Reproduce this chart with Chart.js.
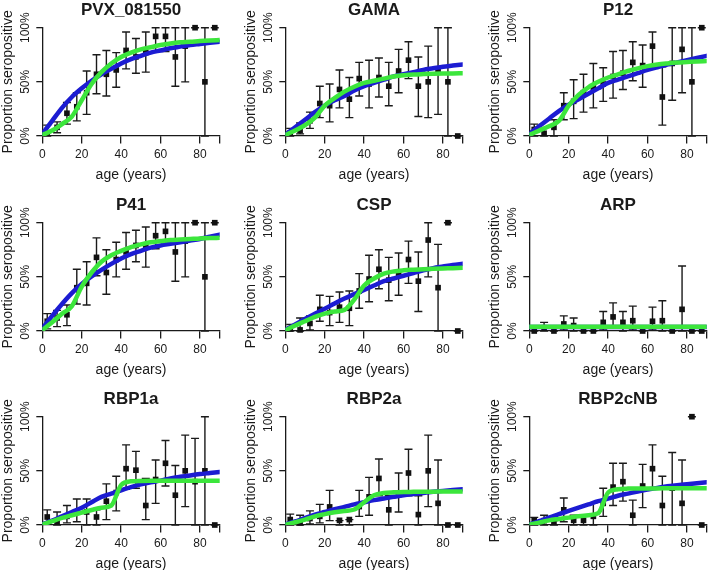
<!DOCTYPE html>
<html>
<head>
<meta charset="utf-8">
<title>Proportion seropositive by age</title>
<script src="https://cdn.jsdelivr.net/npm/chart.js@4"></script>
<style>
  body { margin: 0; background: #fff; overflow: hidden; }
  #wrap { position: relative; width: 709px; height: 570px; overflow: hidden; }
  #wrap canvas { position: absolute; }
</style>
</head>
<body>
<div id="wrap"></div>
<script>
var ageMids = [2.5, 7.5, 12.5, 17.5, 22.5, 27.5, 32.5, 37.5, 42.5, 47.5, 52.5, 57.5, 62.5, 67.5, 72.5, 77.5, 82.5, 87.5];
var curveAges = [0, 5, 10, 15, 20, 25, 30, 35, 40, 45, 50, 55, 60, 65, 70, 75, 80, 85, 90];
var xTickValues = [0, 20, 40, 60, 80, 90];
var xTickLabels = ['0', '20', '40', '60', '80', ''];
var yTickValues = [0, 50, 100];
var yTickLabels = ['0%', '50%', '100%'];

// PVX_081550
var pvx_pts   = [3, 8, 21, 27, 40, 57, 57, 61, 79, 73, 77, 92, 92, 73, 83, 100, 50, 100];
var pvx_lo    = [0, 3, 11, 14, 20, 39, 37, 45, 62, 58, 59, 78, 78, 46, 50, 100, 0, 100];
var pvx_hi    = [10, 13, 31, 40, 60, 75, 79, 77, 96, 90, 96, 100, 100, 100, 100, 100, 100, 100];
var pvx_blue  = [2, 14, 26, 36, 44, 51, 57, 62, 67, 71, 74, 77, 79, 81, 82.5, 84, 85, 86, 87];
var pvx_green = [1, 5, 11, 18, 33, 48, 59, 67, 73, 77, 80, 82, 84, 85.5, 86.5, 87, 87.7, 88.2, 88.6];

// GAMA
var gama_pts   = [3, 5, 14, 30, 28, 43, 34, 53, 48, 54, 46, 60, 70, 46, 50, 60, 50, 0];
var gama_lo    = [0, 2, 7, 17, 13, 26, 17, 37, 26, 36, 28, 40, 53, 18, 17, 20, 0, 0];
var gama_hi    = [7, 12, 22, 46, 48, 61, 54, 68, 70, 72, 68, 80, 87, 73, 83, 100, 100, 0];
var gama_blue  = [1, 8, 15, 22, 28, 33, 37, 42, 46, 49, 52, 55, 57, 59, 61, 62.5, 64, 65, 66];
var gama_green = [1, 5, 10, 17, 28, 35, 41, 45.5, 49, 51, 53, 55, 56, 56.8, 57.2, 57.5, 57.7, 57.8, 58];

// P12
var p12_pts   = [6, 2.5, 8, 28, 32, 40, 45, 48, 55, 58, 68, 65, 83, 36, 67, 80, 50, 100];
var p12_lo    = [0, 0, 0, 15, 16, 22, 26, 32, 35, 43, 51, 45, 63, 10, 33, 40, 0, 100];
var p12_hi    = [11, 7, 15, 40, 52, 57, 67, 63, 78, 79, 87, 84, 96, 64, 100, 100, 100, 100];
var p12_blue  = [2, 9, 16, 23, 29, 34, 39, 44, 49, 52, 55, 58, 61, 63.5, 66, 68, 70, 72, 74];
var p12_green = [1, 5, 9, 14, 28, 38, 45, 50, 54, 57, 60, 62.5, 64.5, 66, 67, 67.8, 68.3, 68.8, 69.2];

// P41
var p41_pts   = [9, 12, 15, 40, 44, 68, 54, 66, 73, 79, 78, 88, 92, 73, 83, 100, 50, 100];
var p41_lo    = [2, 4, 5, 25, 24, 51, 34, 50, 57, 64, 59, 76, 80, 46, 50, 100, 0, 100];
var p41_hi    = [16, 19, 24, 57, 64, 86, 75, 82, 91, 93, 96, 100, 100, 100, 100, 100, 100, 100];
var p41_blue  = [2, 14, 25, 35, 43.5, 50.5, 56.5, 62, 67, 71, 74, 77, 79, 80.5, 82, 83.5, 85, 87, 89];
var p41_green = [1, 8, 16, 23, 41, 54, 64, 70, 74, 77.5, 80, 82, 83, 84, 84.5, 85, 85.5, 85.8, 86];

// CSP
var csp_pts   = [2, 1, 7, 20, 17, 22, 21, 37, 48, 57, 47, 52, 66, 46, 84, 40, 100, 0];
var csp_lo    = [0, 0, 1, 9, 5, 8, 5, 21, 27, 39, 28, 33, 44, 18, 50, 0, 100, 0];
var csp_hi    = [6, 12, 14, 33, 32, 36, 37, 53, 70, 75, 68, 72, 83, 73, 100, 80, 100, 0];
var csp_blue  = [1, 6, 11, 16, 20.5, 25.5, 30, 34, 38, 42, 46, 48.5, 51, 53.5, 56, 58, 59.5, 61, 62];
var csp_green = [0.5, 5, 9, 13, 16, 18, 19.5, 29, 42, 48.5, 53, 55, 56, 56.6, 57.1, 57.4, 57.7, 58, 58.3];

// ARP
var arp_pts   = [0, 3, 0, 6.5, 5, 0, 0, 8, 13, 8, 9.5, 0, 9, 9.5, 0, 20, 0, 0];
var arp_lo    = [0, 0, 0, 1, 0, 0, 0, 1, 3, 0, 1, 0, 1, 0, 0, 0, 0, 0];
var arp_hi    = [3, 8, 0, 14, 12, 0, 0, 18, 26, 18, 23, 0, 22, 28, 0, 60, 0, 0];
var arp_blue  = [3.7, 3.7, 3.7, 3.7, 3.7, 3.7, 3.7, 3.7, 3.7, 3.7, 3.7, 3.7, 3.7, 3.7, 3.7, 3.7, 3.7, 3.7, 3.7];
var arp_green = [3.9, 3.9, 3.9, 3.9, 3.9, 3.9, 3.9, 3.9, 3.9, 3.9, 3.9, 3.9, 3.9, 3.9, 3.9, 3.9, 3.9, 3.9, 3.9];

// RBP1a
var rbp1a_pts   = [7.4, 3, 8, 12, 12, 7.4, 22, 30, 52, 50.6, 18, 42, 57, 27.5, 50, 40, 50, 0];
var rbp1a_lo    = [2, 0, 2, 3, 0, 0, 5, 13, 33, 34, 5, 20, 36, 0, 17, 0, 0, 0];
var rbp1a_hi    = [14, 12, 18, 24, 24, 14, 38, 45, 74, 68, 43, 60, 78, 55, 83, 80, 100, 0];
var rbp1a_blue  = [0.5, 4, 8, 12, 16, 21, 26, 29, 32, 35, 37.5, 39.5, 41, 43, 44.5, 45.8, 47, 48, 49];
var rbp1a_green = [0.5, 3.5, 6.5, 9, 11.4, 13.8, 16, 18, 37, 40.3, 40.7, 40.8, 40.8, 40.8, 40.8, 40.8, 40.8, 40.8, 40.8];

// RBP2a
var rbp2a_pts   = [5, 2, 6, 8, 16.7, 4.3, 5, 17, 26, 43, 14, 28, 48, 9.6, 50, 20, 0, 0];
var rbp2a_lo    = [0, 0, 1, 2, 4, 0, 0, 8, 9, 27, 0, 12, 27, 0, 17, 0, 0, 0];
var rbp2a_hi    = [10, 9, 13, 19, 32, 4, 5, 32, 44, 61, 27, 48, 70, 27, 83, 60, 0, 0];
var rbp2a_blue  = [0.5, 3.3, 6.5, 9.5, 12, 14.5, 16.7, 19, 21, 23, 24.4, 26, 27.5, 28.6, 29.6, 30.6, 31.5, 32.3, 33];
var rbp2a_green = [0.2, 2.5, 5, 8, 10, 11.7, 13, 14.3, 21, 27.5, 29.6, 30.2, 30.5, 30.6, 30.7, 30.8, 30.9, 31, 31];

// RBP2cNB
var rbp2c_pts   = [4.3, 4, 3, 14, 4.3, 4.3, 8, 20, 35, 40, 9, 36, 52, 18, 34, 20, 100, 0];
var rbp2c_lo    = [0, 0, 0, 3, 0, 0, 0, 8, 18, 22, 0, 16, 34, 0, 0, 0, 100, 0];
var rbp2c_hi    = [7, 9, 4, 25, 9, 8, 20, 34, 57, 57, 23, 56, 74, 45, 67, 60, 100, 0];
var rbp2c_blue  = [0.5, 3.5, 6.8, 10, 13, 16, 19, 22, 24.4, 27, 29, 31, 32.7, 34.3, 35.8, 36.8, 37.7, 38.6, 39.5];
var rbp2c_green = [0.2, 2.2, 4.3, 5.6, 6.8, 8, 9, 11, 30, 33, 33.6, 33.7, 33.8, 33.8, 33.9, 33.9, 34, 34, 34];

var panels = [
  { title: 'PVX_081550', pts: pvx_pts, lo: pvx_lo, hi: pvx_hi, blue: pvx_blue, green: pvx_green },
  { title: 'GAMA', pts: gama_pts, lo: gama_lo, hi: gama_hi, blue: gama_blue, green: gama_green },
  { title: 'P12', pts: p12_pts, lo: p12_lo, hi: p12_hi, blue: p12_blue, green: p12_green },
  { title: 'P41', pts: p41_pts, lo: p41_lo, hi: p41_hi, blue: p41_blue, green: p41_green },
  { title: 'CSP', pts: csp_pts, lo: csp_lo, hi: csp_hi, blue: csp_blue, green: csp_green },
  { title: 'ARP', pts: arp_pts, lo: arp_lo, hi: arp_hi, blue: arp_blue, green: arp_green },
  { title: 'RBP1a', pts: rbp1a_pts, lo: rbp1a_lo, hi: rbp1a_hi, blue: rbp1a_blue, green: rbp1a_green },
  { title: 'RBP2a', pts: rbp2a_pts, lo: rbp2a_lo, hi: rbp2a_hi, blue: rbp2a_blue, green: rbp2a_green },
  { title: 'RBP2cNB', pts: rbp2c_pts, lo: rbp2c_lo, hi: rbp2c_hi, blue: rbp2c_blue, green: rbp2c_green }
];

var FONT = "'Liberation Sans', Arial, sans-serif";
var INK = '#1a1a1a';

function toXY(xs, ys) {
  return xs.map(function (x, i) { return { x: x, y: ys[i] }; });
}

// error bars, panel title and the rotated y tick labels
function decoPlugin(p) {
  return {
    id: 'deco',
    beforeDatasetsDraw: function (chart) {
      var ctx = chart.ctx, xs = chart.scales.x, ys = chart.scales.y;
      ctx.save();
      ctx.strokeStyle = INK;
      ctx.lineWidth = 1.4;
      ageMids.forEach(function (a, i) {
        var x = xs.getPixelForValue(a);
        var y1 = ys.getPixelForValue(p.lo[i]);
        var y2 = ys.getPixelForValue(p.hi[i]);
        ctx.beginPath();
        ctx.moveTo(x, y1); ctx.lineTo(x, y2);
        ctx.moveTo(x - 4, y1); ctx.lineTo(x + 4, y1);
        ctx.moveTo(x - 4, y2); ctx.lineTo(x + 4, y2);
        ctx.stroke();
      });
      ctx.restore();
    },
    afterDraw: function (chart) {
      var ctx = chart.ctx, area = chart.chartArea, ys = chart.scales.y;
      ctx.save();
      ctx.fillStyle = INK;
      ctx.font = 'bold 17px ' + FONT;
      ctx.textAlign = 'center';
      ctx.textBaseline = 'alphabetic';
      ctx.fillText(p.title, (area.left + area.right) / 2, 15);
      ctx.font = '12px ' + FONT;
      ctx.textBaseline = 'middle';
      yTickValues.forEach(function (v, i) {
        ctx.save();
        ctx.translate(area.left - 16.5, ys.getPixelForValue(v));
        ctx.rotate(-Math.PI / 2);
        ctx.fillText(yTickLabels[i], 0, 0);
        ctx.restore();
      });
      ctx.restore();
    }
  };
}

var wrap = document.getElementById('wrap');

panels.forEach(function (p, k) {
  var col = k % 3, row = Math.floor(k / 3);
  var canvas = document.createElement('canvas');
  canvas.width = 224;
  canvas.height = 184;
  canvas.style.left = (col * 243.3) + 'px';
  canvas.style.top = (row * 194.5) + 'px';
  wrap.appendChild(canvas);

  new Chart(canvas.getContext('2d'), {
    type: 'line',
    data: {
      datasets: [
        {
          data: toXY(curveAges, p.green),
          borderColor: '#3ce63c', borderWidth: 4.5,
          borderCapStyle: 'round', borderJoinStyle: 'round',
          pointRadius: 0, cubicInterpolationMode: 'monotone', order: 1
        },
        {
          data: toXY(curveAges, p.blue),
          borderColor: '#1c1cd2', borderWidth: 4.5,
          borderCapStyle: 'round', borderJoinStyle: 'round',
          pointRadius: 0, cubicInterpolationMode: 'monotone', order: 2
        },
        {
          data: toXY(ageMids, p.pts),
          showLine: false, pointStyle: 'rect', pointRadius: 4,
          pointBackgroundColor: '#111', pointBorderWidth: 0,
          clip: false, order: 3
        }
      ]
    },
    options: {
      responsive: false,
      animation: false,
      devicePixelRatio: 1,
      events: [],
      layout: { padding: { top: 27.7, right: 2.7, bottom: 0, left: 0 } },
      plugins: { legend: { display: false }, tooltip: { enabled: false } },
      scales: {
        x: {
          type: 'linear', min: 0, max: 90,
          afterBuildTicks: function (s) { s.ticks = xTickValues.map(function (v) { return { value: v }; }); },
          afterFit: function (s) { s.height = 48; },
          ticks: {
            autoSkip: false, maxRotation: 0, padding: 4.3,
            color: INK, font: { family: FONT, size: 12 },
            callback: function (v, i) { return xTickLabels[i]; }
          },
          grid: { drawOnChartArea: false, drawTicks: true, tickLength: 7.5, color: INK, lineWidth: 1.3 },
          border: { display: true, color: INK, width: 1.3 },
          title: {
            display: true, text: 'age (years)', color: INK,
            font: { family: FONT, size: 14 }, padding: { top: 0, bottom: 0.6 }
          }
        },
        y: {
          type: 'linear', min: 0, max: 100,
          afterBuildTicks: function (s) { s.ticks = yTickValues.map(function (v) { return { value: v }; }); },
          afterFit: function (s) { s.width = 42.3; },
          ticks: { display: false },
          grid: { drawOnChartArea: false, drawTicks: true, tickLength: 6, color: INK, lineWidth: 1.3 },
          border: { display: true, color: INK, width: 1.3 },
          title: {
            display: true, text: 'Proportion seropositive', color: INK,
            font: { family: FONT, size: 14 }, padding: { top: 0, bottom: 0 }
          }
        }
      }
    },
    plugins: [decoPlugin(p)]
  });
});
</script>
</body>
</html>
